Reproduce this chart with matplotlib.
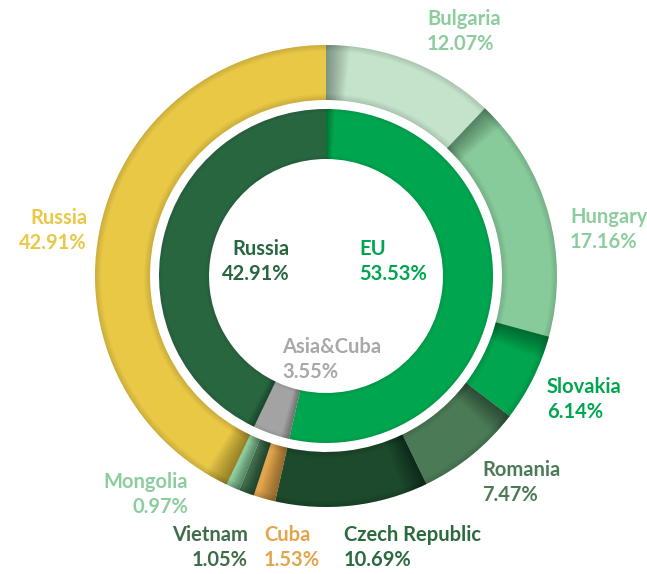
import matplotlib.pyplot as plt
from matplotlib.patches import Wedge
import numpy as np

plt.rcParams['font.family'] = ['Lato', 'DejaVu Sans']

# outer ring (clockwise from 12 o'clock)
outer_names = ['Bulgaria', 'Hungary', 'Slovakia', 'Romania', 'Czech Republic',
               'Cuba', 'Vietnam', 'Mongolia', 'Russia']
outer_vals = [12.07, 17.16, 6.14, 7.47, 10.69, 1.53, 1.05, 0.97, 42.91]
outer_colors = ['#c4e3cb', '#88cb9b', '#00a64f', '#4b7b56', '#1d4a2c',
                '#e2a54c', '#3f6d4a', '#8ccd9d', '#e9c846']

# inner ring
inner_names = ['EU', 'Asia&Cuba', 'Russia']
inner_vals = [53.53, 3.55, 42.91]
inner_colors = ['#00a64f', '#a3a3a3', '#286640']

W, H = 647, 574
cx, cy = 326, H - 276
R_out, w_out = 231, 55
R_in, w_in = 167, 50

fig = plt.figure(figsize=(W / 100, H / 100), dpi=100)
ax = fig.add_axes([0, 0, 1, 1])

ax.pie(outer_vals, radius=R_out, center=(cx, cy), startangle=90, counterclock=False,
       colors=outer_colors, wedgeprops=dict(width=w_out, linewidth=0))
ax.pie(inner_vals, radius=R_in, center=(cx, cy), startangle=90, counterclock=False,
       colors=inner_colors, wedgeprops=dict(width=w_in, linewidth=0))


def shade(vals, r, w, ang_steps=16, ang_size=6.0, alpha=0.025, edge_steps=5):
    # shadow falling into each wedge from its start boundary
    cum = np.cumsum([0] + list(vals)) / sum(vals)
    for i in range(len(vals)):
        a0 = 90 - cum[i] * 360
        span = (cum[i + 1] - cum[i]) * 360
        size = min(ang_size, span * 0.8)
        for k in range(1, ang_steps + 1):
            ax.add_patch(Wedge((cx, cy), r, a0 - size * k / ang_steps, a0, width=w,
                               color='black', alpha=alpha, linewidth=0))
    # darker rims
    for k in range(1, edge_steps + 1):
        ax.add_patch(Wedge((cx, cy), r, 0, 360, width=k * 1.2,
                           color='black', alpha=0.025, linewidth=0))
        ax.add_patch(Wedge((cx, cy), r - w + k * 1.2, 0, 360, width=k * 1.2,
                           color='black', alpha=0.025, linewidth=0))


shade(outer_vals, R_out, w_out)
shade(inner_vals, R_in, w_in, ang_steps=10, ang_size=3.0, alpha=0.03, edge_steps=3)

ax.set_xlim(0, W)
ax.set_ylim(0, H)
ax.set_aspect('equal')
ax.axis('off')

fs = 14.5


def label(x, y, name, pct, color, ha='left'):
    ax.text(x, H - y, name, color=color, fontsize=fs, fontweight='bold',
            ha=ha, va='center')
    ax.text(x, H - y - 25, '%.2f%%' % pct, color=color, fontsize=fs,
            fontweight='bold', ha=ha, va='center')


# outer labels
label(427, 19, 'Bulgaria', outer_vals[0], '#8ccd9d')
label(570, 217, 'Hungary', outer_vals[1], '#8ccd9d')
label(547, 387, 'Slovakia', outer_vals[2], '#00a64f')
label(482, 470, 'Romania', outer_vals[3], '#4b7b56')
label(344, 535, 'Czech Republic', outer_vals[4], '#2b6a3d')
label(264, 535, 'Cuba', outer_vals[5], '#e2a54c')
label(248, 535, 'Vietnam', outer_vals[6], '#3f6d4a', ha='right')
label(188, 482, 'Mongolia', outer_vals[7], '#8ccd9d', ha='right')
label(87, 218, 'Russia', outer_vals[8], '#e9c846', ha='right')

# inner labels
label(290, 249, 'Russia', inner_vals[2], '#286640', ha='right')
label(359, 249, 'EU', inner_vals[0], '#00a64f')
label(282, 347, 'Asia&Cuba', inner_vals[1], '#a8a8a8')

fig.savefig('out.png', dpi=100)
